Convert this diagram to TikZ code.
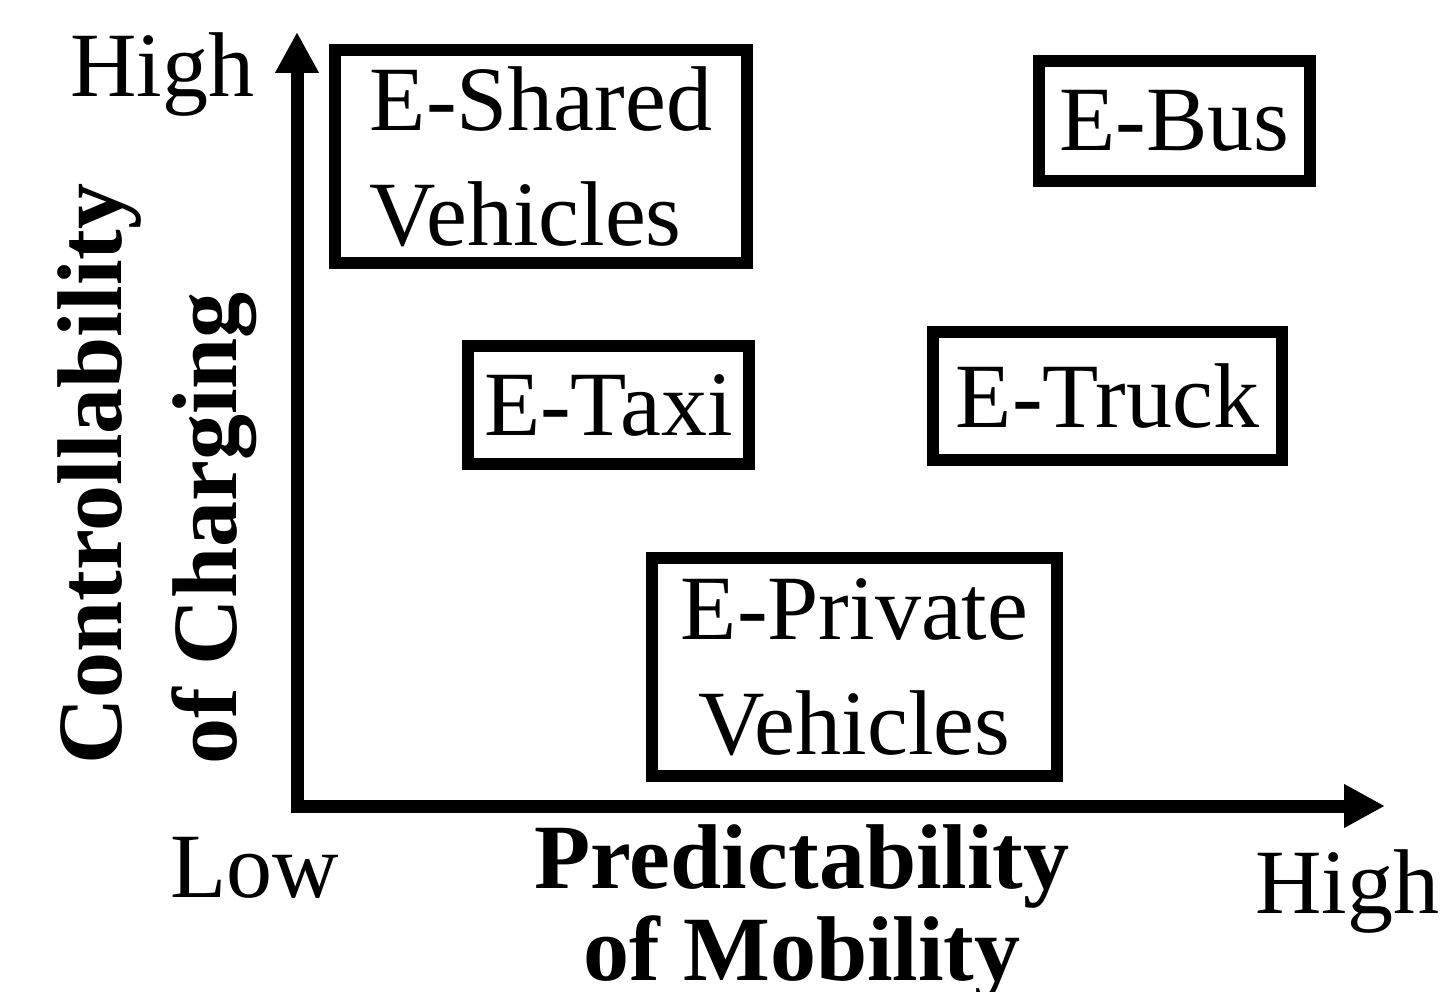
\documentclass[tikz,border=0pt]{standalone}
\usepackage{fontspec}
\setmainfont{Liberation Serif}
\usepackage{tikz}
\usetikzlibrary{arrows.meta}

\newcommand{\bigfont}{\fontsize{92}{115}\selectfont}

\begin{document}
\begin{tikzpicture}[x=1pt, y=-1pt,
    every node/.style={font=\bigfont, inner sep=0pt},
    axis/.style={line width=13pt, line join=miter,
        {Triangle[length=41pt, width=41pt]}-{Triangle[length=41pt, width=41pt]}},
    catbox/.style={draw, line width=12pt, align=center},
    axislabel/.style={font=\bigfont\bfseries, align=center}
]
\useasboundingbox (0,0) rectangle (1453,992);

% axes
\coordinate (origin) at (297,806);
\coordinate (ytip) at (297,32);
\coordinate (xtip) at (1385,806);
\draw[axis] (ytip) -- (origin) -- (xtip);

% axis ends
\node[anchor=base west] (yhigh) at (70,97) {High};
\node[anchor=base west] (xlow) at (170,897) {Low};
\node[anchor=base west] (xhigh) at (1255,913) {High};

% axis titles
\node[axislabel, anchor=base] (xtitle) at (802,888) {Predictability};
\node[axislabel, anchor=base] (xtitle2) at (802,980) {of Mobility};
\node[axislabel, rotate=90, anchor=base west] (ytitle) at (121,765) {Controllability};
\node[axislabel, rotate=90, anchor=base west] (ytitle2) at (236,765) {of Charging};

% vehicle categories
\node[catbox, align=left, minimum width=412, minimum height=213] (shared) at (541,156.5)
    {E-Shared\\Vehicles};
\node[catbox, minimum width=271, minimum height=120] (bus) at (1174.5,121) {E-Bus};
\node[catbox, minimum width=281, minimum height=118] (taxi) at (608.5,405) {E-Taxi};
\node[catbox, minimum width=349, minimum height=128] (truck) at (1107.5,396) {E-Truck};
\node[catbox, minimum width=405, minimum height=218] (private) at (854.5,667)
    {E-Private\\Vehicles};

\end{tikzpicture}
\end{document}
